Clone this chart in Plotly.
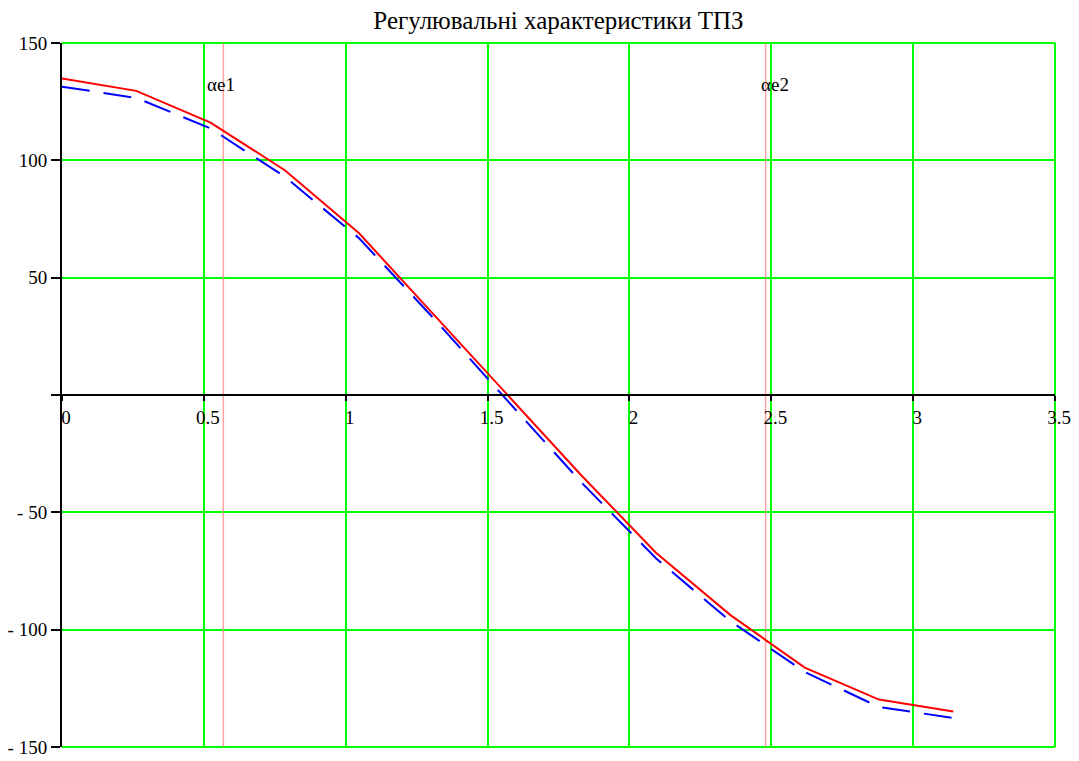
import plotly.graph_objects as go

# Data
alpha = [0.0, 0.2618, 0.5236, 0.7854, 1.0472, 1.3090, 1.5708, 1.8326, 2.0944, 2.3562, 2.6180, 2.8798, 3.1416]
u_red = [134.9, 129.6, 116.1, 95.8, 68.9, 34.3, 0.0, -34.5, -67.3, -93.8, -116.2, -129.8, -134.9]
u_blue = [131.4, 126.6, 113.6, 93.0, 66.8, 32.8, -2.5, -37.5, -69.7, -96.4, -118.0, -133.0, -137.6]
marker_x = [0.5686, 2.480]
marker_labels = ["αe1", "αe2"]
marker_label_shift = [-2, 9]

x_tickvals = [0, 0.5, 1, 1.5, 2, 2.5, 3, 3.5]
x_ticktext = ["0", "0.5", "1", "1.5", "2", "2.5", "3", "3.5"]
y_tickvals = [150, 100, 50, 0, -50, -100, -150]
y_ticktext = ["150", "100", "50", "", "- 50", "- 100", "- 150"]

title_text = "Регулювальні характеристики ТПЗ"

FONT = "Liberation Serif, Times New Roman, serif"
GREEN = "#00ff00"

fig = go.Figure()

# marker lines
for mx in marker_x:
    fig.add_trace(go.Scatter(x=[mx, mx], y=[-150, 150], mode="lines",
                             line=dict(color="rgba(255,140,140,0.8)", width=1.5),
                             hoverinfo="skip", showlegend=False))

fig.add_trace(go.Scatter(x=alpha, y=u_blue, mode="lines",
                         line=dict(color="#0000ff", width=2, dash="28px,14px"),
                         showlegend=False))
fig.add_trace(go.Scatter(x=alpha, y=u_red, mode="lines",
                         line=dict(color="#ff0000", width=2),
                         showlegend=False))

for mx, lab, sh in zip(marker_x, marker_labels, marker_label_shift):
    fig.add_annotation(x=mx, y=132.4, text=lab, showarrow=False, xanchor="center",
                       yanchor="middle", xshift=sh,
                       font=dict(family=FONT, size=19, color="black"))

# green frame lines at the edges of the plot area (grid at range ends) and at zero
frame = [
    dict(x0=0, x1=1, y0=1, y1=1),
    dict(x0=0, x1=1, y0=0, y1=0),
    dict(x0=1, x1=1, y0=0, y1=1),
    dict(x0=0, x1=1, y0=0.5, y1=0.5),
]
for f in frame:
    fig.add_shape(type="line", xref="paper", yref="paper", layer="below",
                  line=dict(color=GREEN, width=2), **f)

fig.update_layout(
    width=1079, height=761,
    margin=dict(l=62, r=24, t=43, b=14, autoexpand=False),
    paper_bgcolor="white", plot_bgcolor="white",
    title=dict(text=title_text, x=0.5176, xanchor="center", y=0.973, yanchor="middle",
               font=dict(family=FONT, size=25, color="black")),
    font=dict(family=FONT, size=19, color="black"),
)

fig.update_xaxes(
    range=[0, 3.5], tickvals=x_tickvals, ticktext=x_ticktext,
    showgrid=True, gridcolor=GREEN, gridwidth=2,
    zeroline=False, automargin=False,
    showline=True, linecolor="black", linewidth=2,
    anchor="free", position=0.5,
    ticks="outside", ticklen=5, tickwidth=2, tickcolor="black",
    ticklabelshift=4,
    tickfont=dict(family=FONT, size=19, color="black"),
)
fig.update_yaxes(
    range=[-150, 150], tickvals=y_tickvals, ticktext=y_ticktext,
    showgrid=True, gridcolor=GREEN, gridwidth=2,
    zeroline=False, automargin=False,
    showline=True, linecolor="black", linewidth=2,
    ticks="outside", ticklen=9, tickwidth=2, tickcolor="black",
    tickfont=dict(family=FONT, size=19, color="black"),
)

fig.write_html("out.html")
